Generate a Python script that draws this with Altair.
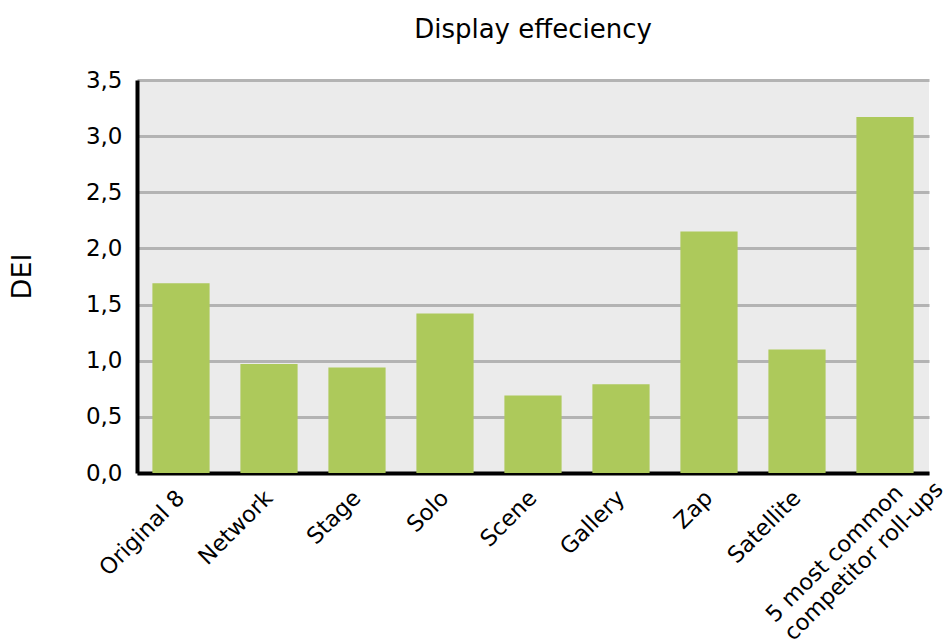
import altair as alt
import pandas as pd

categories = ["Original 8", "Network", "Stage", "Solo", "Scene", "Gallery", "Zap",
              "Satellite", "5 most common\ncompetitor roll-ups"]
dei_values = [1.69, 0.97, 0.94, 1.42, 0.69, 0.79, 2.15, 1.10, 3.17]
y_ticks = [0.0, 0.5, 1.0, 1.5, 2.0, 2.5, 3.0, 3.5]

df = pd.DataFrame({"category": categories, "DEI": dei_values})

FONT = "DejaVu Sans"
MULTI = "indexof(datum.value, 'competitor') >= 0"

chart = alt.Chart(df).mark_bar(color="#adc95b").encode(
    x=alt.X("category:N", sort=categories,
            scale=alt.Scale(paddingInner=0.35, paddingOuter=0.175),
            axis=alt.Axis(title=None, labelAngle=-45,
                          labelAlign={"condition": {"test": MULTI, "value": "left"},
                                      "value": "right"},
                          labelBaseline="middle",
                          labelPadding={"condition": {"test": MULTI, "value": 145},
                                        "value": 21},
                          labelOffset={"condition": {"test": MULTI, "value": -115},
                                       "value": 0},
                          labelExpr="split(datum.label, '\\n')",
                          labelFont=FONT, labelFontSize=22.5, labelColor="black",
                          ticks=False, domainColor="black", domainWidth=4,
                          grid=False, labelLimit=400, labelLineHeight=26)),
    y=alt.Y("DEI:Q", scale=alt.Scale(domain=[0, 3.5], nice=False),
            axis=alt.Axis(title="DEI", values=y_ticks,
                          labelExpr="replace(format(datum.value, '.1f'), '.', ',')",
                          labelFont=FONT, labelFontSize=23, labelColor="black",
                          labelPadding=15, ticks=False,
                          domainColor="black", domainWidth=4,
                          gridColor="#b3b3b3", gridWidth=3,
                          titleFont=FONT, titleFontSize=27, titleFontWeight="normal",
                          titleColor="black", titleAngle=270, titleX=-115, titleY=196,
                          titleAlign="center", titleBaseline="middle")),
).properties(
    width=792,
    height=393,
    title=alt.TitleParams("Display effeciency", font=FONT, fontSize=26,
                          fontWeight="normal", color="black", anchor="middle",
                          offset=26),
    autosize=alt.AutoSizeParams(type="none"),
    padding={"left": 137, "top": 80, "right": 16, "bottom": 168},
).configure_view(fill="#ebebeb", stroke=None)

chart.save("out.html", embed_options={"renderer": "svg", "actions": False})
